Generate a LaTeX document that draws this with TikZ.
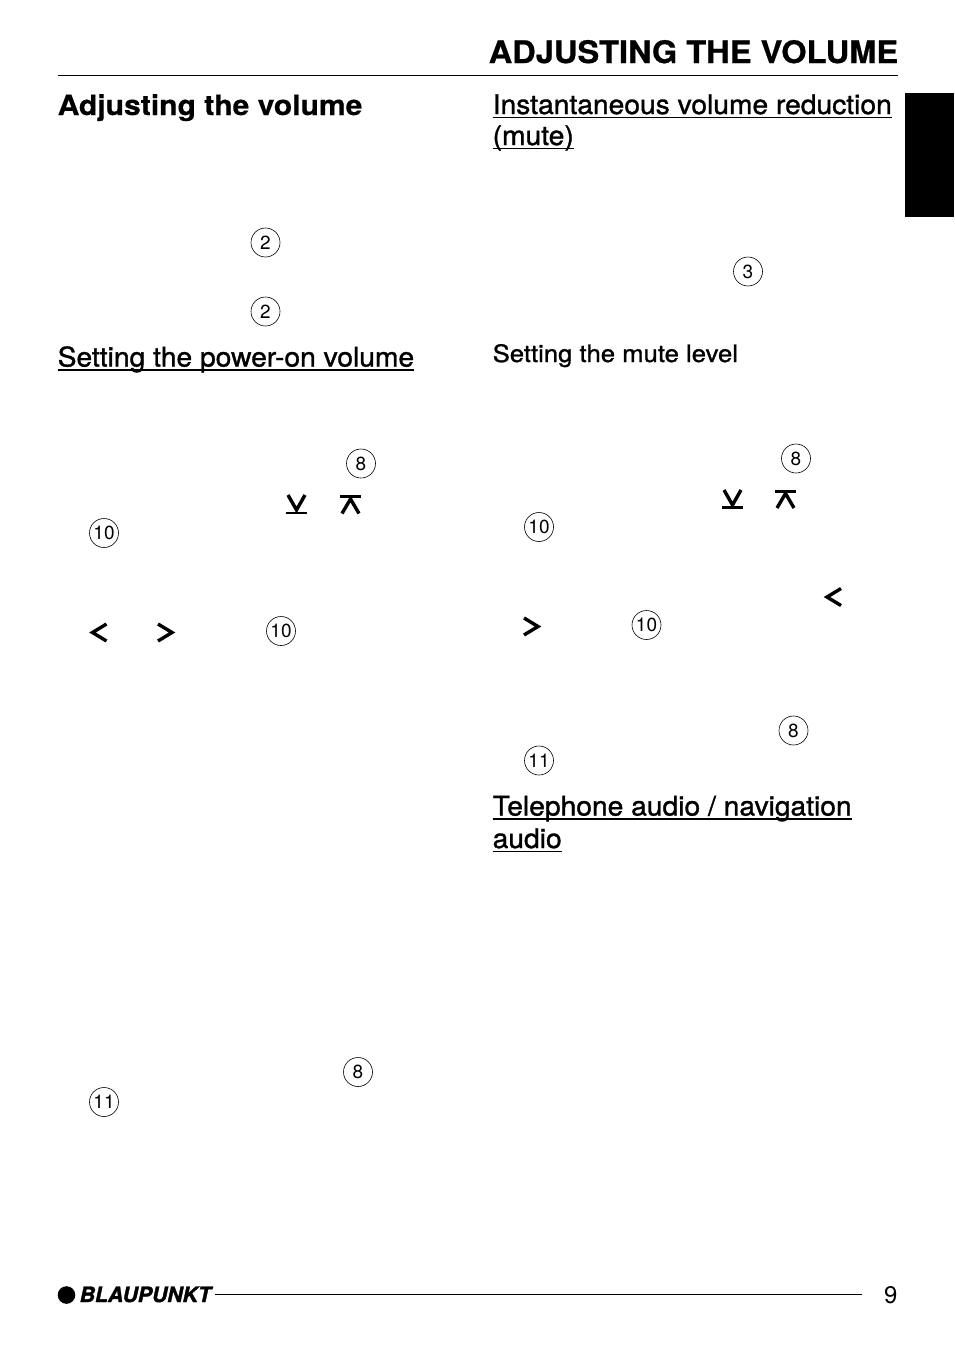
\documentclass[tikz,border=0pt]{standalone}
\usepackage{fontspec}
\setmainfont{TeX Gyre Heros}
\newfontfamily\medf[FakeBold=1.2,FakeStretch=1.045]{TeX Gyre Heros}
\newfontfamily\medg[FakeBold=1.0,FakeStretch=1.07]{TeX Gyre Heros}
\newfontfamily\titf[BoldFont={* Bold},BoldFeatures={FakeStretch=1.052,FakeBold=0.7}]{TeX Gyre Heros}
\newfontfamily\hdgf[BoldFont={* Bold},BoldFeatures={FakeStretch=1.074,FakeBold=0.4}]{TeX Gyre Heros}
\newfontfamily\logof[BoldFont={* Bold Italic},BoldFeatures={FakeBold=1.6}]{TeX Gyre Heros}
\begin{document}
\begin{tikzpicture}[x=1pt,y=-1pt,
  lab/.style={inner sep=0pt,anchor=base west,text depth=0pt},
  title/.style={lab,font=\titf\bfseries\fontsize{31}{31}\selectfont},
  h1/.style={lab,font=\hdgf\bfseries\fontsize{28}{28}\selectfont},
  h2/.style={lab,font=\medf\fontsize{27}{27}\selectfont},
  h3/.style={lab,font=\medg\fontsize{24}{24}\selectfont},
  ul/.style={line width=1.6pt,black},
  rule/.style={line width=1pt,black},
  num/.style={circle,draw=black,line width=0.6pt,minimum size=29pt,inner sep=0pt,font=\fontsize{19}{19}\selectfont},
  sym/.style={line width=3.4pt,black,miter limit=10},
  dnbar/.style={line width=2.4pt,black},
  upbar/.style={line width=3pt,black}]
\useasboundingbox (0,0) rectangle (954,1349);
\fill[white] (0,0) rectangle (954,1349);

% header
\node[title] (title) at (488.5,63) {ADJUSTING THE VOLUME};
\coordinate (hl) at (58,75.5); \coordinate (hr) at (898,75.5);
\draw[rule] (hl) -- (hr);
\fill[black] (905,93) rectangle (954,217);

% headings, left
\node[h1] (adj) at (57.5,115) {Adjusting the volume};
\node[h2] (pow) at (57.5,366.5) {Setting the power-on volume};
\draw[ul] ([yshift=-3.5pt]pow.base west) -- ([yshift=-3.5pt]pow.base east);

% headings, right
\node[h2] (ins) at (492.5,114) {Instantaneous volume reduction};
\draw[ul] ([yshift=-3.5pt]ins.base west) -- ([yshift=-3.5pt]ins.base east);
\node[h2] (mut) at (492.5,145) {(mute)};
\draw[ul] ([yshift=-3.5pt]mut.base west) -- ([yshift=-3.5pt]mut.base east);
\node[h3] (lev) at (492.5,362) {Setting the mute level};
\node[h2] (tel) at (492.5,815.5) {Telephone audio / navigation};
\draw[ul] ([yshift=-3.5pt]tel.base west) -- ([yshift=-3.5pt]tel.base east);
\node[h2] (aud) at (492.5,848) {audio};
\draw[ul] ([yshift=-3.5pt]aud.base west) -- ([yshift=-3.5pt]aud.base east);

% numbered keys, left
\node[num] (a1) at (265.5,242.5) {2};
\node[num] (a2) at (265.5,311.5) {2};
\node[num] (a3) at (361,463.5) {8};
\node[num] (a4) at (104,533) {10};
\node[num] (a5) at (281,631) {10};
\node[num] (a6) at (358,1072) {8};
\node[num] (a7) at (104,1102) {11};

% numbered keys, right
\node[num] (b1) at (748,271.5) {3};
\node[num] (b2) at (796,458.5) {8};
\node[num] (b3) at (539,527) {10};
\node[num] (b4) at (646.5,625) {10};
\node[num] (b5) at (793.5,730.5) {8};
\node[num] (b6) at (539,760.5) {11};

% arrow keys, left
\draw[sym] (288,495) -- (296.5,510) -- (305,495);
\draw[dnbar] (286,513) -- (307,513);
\draw[sym] (342,513.5) -- (350.5,499) -- (359,513.5);
\draw[upbar] (340,496.5) -- (361,496.5);
\draw[sym] (106.5,624) -- (92.5,632.5) -- (106.5,641);
\draw[sym] (158,624) -- (172,632.5) -- (158,641);

% arrow keys, right
\draw[sym] (724,490) -- (732.5,505) -- (741,490);
\draw[dnbar] (722,507.5) -- (743,507.5);
\draw[sym] (777,508) -- (785.5,493.5) -- (794,508);
\draw[upbar] (775,491) -- (796,491);
\draw[sym] (841,588.5) -- (827,597) -- (841,605.5);
\draw[sym] (524,618) -- (538,626.5) -- (524,635);

% footer
\fill[black] (66.5,1295) circle (8.8pt);
\node[lab,font=\logof\bfseries\fontsize{21.2}{21.2}\selectfont] (logo) at (79.5,1302) {BLAUPUNKT};
\coordinate (fl) at (215,1294.5); \coordinate (fr) at (862,1294.5);
\draw[rule] (fl) -- (fr);
\node[lab,font=\fontsize{24}{24}\selectfont] (page) at (884,1303) {9};
\end{tikzpicture}
\end{document}
